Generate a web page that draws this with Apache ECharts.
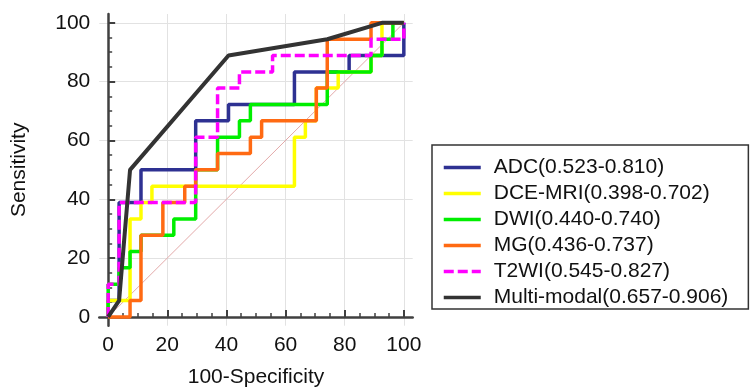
<!DOCTYPE html>
<html>
<head>
<meta charset="utf-8">
<script src="https://cdn.jsdelivr.net/npm/echarts@6/dist/echarts.min.js"></script>
<style>
  html, body { margin: 0; padding: 0; background: #fff; }
  #chart { width: 751px; height: 387px; }
</style>
</head>
<body>
<div id="chart"></div>
<script>
// ROC curves, [100-specificity, sensitivity] pairs
const seriesNames = ['ADC(0.523-0.810)', 'DCE-MRI(0.398-0.702)', 'DWI(0.440-0.740)', 'MG(0.436-0.737)', 'T2WI(0.545-0.827)', 'Multi-modal(0.657-0.906)']
const adcPoints = [[0, 0], [0, 5.56], [3.7, 5.56], [3.7, 38.9], [11.1, 38.9], [11.1, 50], [29.6, 50], [29.6, 66.7], [40.7, 66.7], [40.7, 72.2], [63, 72.2], [63, 83.3], [81.5, 83.3], [81.5, 88.9], [100, 88.9], [100, 100]]
const dcePoints = [[0, 0], [0, 5.56], [7.4, 5.56], [7.4, 33.3], [11.1, 33.3], [11.1, 38.9], [14.8, 38.9], [14.8, 44.4], [63, 44.4], [63, 61.1], [66.7, 61.1], [66.7, 66.7], [70.4, 66.7], [70.4, 77.8], [77.8, 77.8], [77.8, 83.3], [88.9, 83.3], [88.9, 88.9], [92.6, 88.9], [92.6, 100], [100, 100]]
const dwiPoints = [[0, 0], [0, 11.1], [3.7, 11.1], [3.7, 16.7], [7.4, 16.7], [7.4, 22.2], [11.1, 22.2], [11.1, 27.8], [22.2, 27.8], [22.2, 33.3], [29.6, 33.3], [29.6, 50], [37, 50], [37, 61.1], [44.4, 61.1], [44.4, 66.7], [48.1, 66.7], [48.1, 72.2], [74.1, 72.2], [74.1, 83.3], [88.9, 83.3], [88.9, 88.9], [92.6, 88.9], [92.6, 94.4], [96.3, 94.4], [96.3, 100], [100, 100]]
const mgPoints = [[0, 0], [7.4, 0], [7.4, 5.56], [11.1, 5.56], [11.1, 27.8], [18.5, 27.8], [18.5, 38.9], [25.9, 38.9], [25.9, 44.4], [29.6, 44.4], [29.6, 50], [37, 50], [37, 55.6], [48.1, 55.6], [48.1, 61.1], [51.9, 61.1], [51.9, 66.7], [70.4, 66.7], [70.4, 77.8], [74.1, 77.8], [74.1, 94.4], [88.9, 94.4], [88.9, 100], [100, 100]]
const t2wiPoints = [[0, 0], [0, 11.1], [3.7, 11.1], [3.7, 38.9], [29.6, 38.9], [29.6, 61.1], [37, 61.1], [37, 77.8], [44.4, 77.8], [44.4, 83.3], [55.6, 83.3], [55.6, 88.9], [88.9, 88.9], [88.9, 94.4], [100, 94.4], [100, 100]]
const multiPoints = [[0, 0], [3.7, 5.56], [7.4, 50], [40.7, 88.9], [74.1, 94.4], [92.6, 100], [100, 100]]
const refPoints = [[0, 0], [100, 100]]

const majorTicks = [0, 20, 40, 60, 80, 100]
const minorTicks = [5, 10, 15, 25, 30, 35, 45, 50, 55, 65, 70, 75, 85, 90, 95]

const colors = ['#2e3192', '#ffff00', '#00ee00', '#ff6a13', '#ff00ff', '#333333']
const FONT = 'Liberation Sans, Arial, sans-serif'

const chart = echarts.init(document.getElementById('chart'))

// 主轴: 刻度向内, 只在整数位置画网格
const mainAxis = (name, pos) => ({
  type: 'value',
  position: pos,
  min: -3,
  max: 103,
  name: name,
  nameLocation: 'middle',
  nameGap: pos === 'left' ? 70 : 41,
  nameTextStyle: { fontSize: 21, color: '#111', fontFamily: FONT },
  axisLine: { show: true, lineStyle: { color: '#404040', width: 2.5 } },
  axisTick: { show: true, inside: true, length: 7, customValues: majorTicks, lineStyle: { color: '#404040', width: 2 } },
  axisLabel: { customValues: majorTicks, fontSize: 21, color: '#111', fontFamily: FONT, margin: 9 },
  splitLine: { show: true, lineStyle: { color: '#e2e2e2', width: 1 } }
})
// 次刻度
const minorAxis = (pos) => ({
  type: 'value',
  position: pos,
  min: -3,
  max: 103,
  axisLine: { show: false },
  axisTick: { show: true, inside: true, length: 4, customValues: minorTicks, lineStyle: { color: '#404040', width: 1.5 } },
  axisLabel: { show: false },
  splitLine: { show: false }
})

const lineSeries = (name, data, color, dashed) => ({
  name: name,
  type: 'line',
  data: data,
  symbol: 'none',
  xAxisIndex: 0,
  yAxisIndex: 0,
  lineStyle: { color: color, width: name.indexOf('Multi') === 0 ? 4 : 3.5, type: dashed ? [10, 4] : 'solid' },
  itemStyle: { color: color }
})

const option = {
  animation: false,
  grid: { left: 99.3, right: 338.3, top: 14, bottom: 61.3, outerBoundsMode: 'none', containLabel: false },
  xAxis: [mainAxis('100-Specificity', 'bottom'), minorAxis('bottom')],
  yAxis: [mainAxis('Sensitivity', 'left'), minorAxis('left')],
  legend: {
    data: seriesNames,
    orient: 'vertical',
    left: 432,
    top: 145,
    padding: [12, 20, 1, 10],
    borderColor: '#333',
    borderWidth: 1.5,
    borderRadius: 0,
    itemWidth: 37,
    itemHeight: 12,
    itemGap: 5,
    itemStyle: { opacity: 0 },
    lineStyle: { width: 3.5 },
    textStyle: { fontSize: 21, color: '#111', fontFamily: FONT, padding: [0, 0, 0, 8] }
  },
  series: [
    {
      name: 'ref',
      type: 'line',
      data: refPoints,
      symbol: 'none',
      silent: true,
      lineStyle: { color: '#e3a9a9', width: 1 }
    },
    lineSeries(seriesNames[0], adcPoints, colors[0]),
    lineSeries(seriesNames[1], dcePoints, colors[1]),
    lineSeries(seriesNames[2], dwiPoints, colors[2]),
    lineSeries(seriesNames[3], mgPoints, colors[3]),
    lineSeries(seriesNames[4], t2wiPoints, colors[4], true),
    lineSeries(seriesNames[5], multiPoints, colors[5])
  ]
}

chart.setOption(option)
</script>
</body>
</html>
